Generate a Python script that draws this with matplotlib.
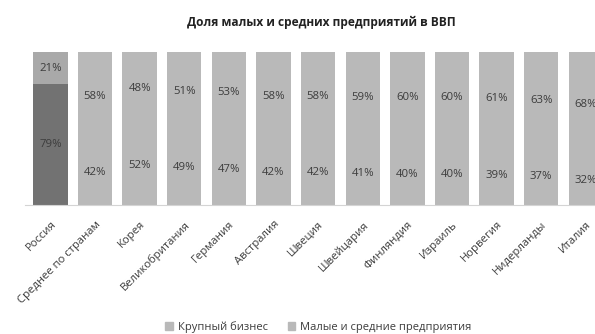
import matplotlib.pyplot as plt
import numpy as np

plt.rcParams["font.family"] = ["Open Sans", "DejaVu Sans"]

countries = [
    "Россия", "Среднее по странам", "Корея", "Великобритания", "Германия",
    "Австралия", "Швеция", "Швейцария", "Финляндия", "Израиль",
    "Норвегия", "Нидерланды", "Италия",
]
large_business = [79, 42, 52, 49, 47, 42, 42, 41, 40, 40, 39, 37, 32]
small_medium = [21, 58, 48, 51, 53, 58, 58, 59, 60, 60, 61, 63, 68]

BAR_GREY = "#b9b9b9"
RUSSIA_LARGE = "#727272"
RUSSIA_SME = "#a9a9a9"
TEXT = "#3c3c3c"

fig = plt.figure(figsize=(5.95, 3.34), dpi=100)
ax = fig.add_axes([0.042, 0.386, 0.980, 0.458])

x = np.arange(len(countries))
large_colors = [RUSSIA_LARGE] + [BAR_GREY] * (len(x) - 1)
sme_colors = [RUSSIA_SME] + [BAR_GREY] * (len(x) - 1)

ax.bar(x, large_business, width=0.77, color=large_colors)
ax.bar(x, small_medium, width=0.77, bottom=large_business, color=sme_colors)

# value labels centred inside each segment
for i, (lb, sm) in enumerate(zip(large_business, small_medium)):
    ax.text(i, lb / 2, f"{lb}%", ha="center", va="center", fontsize=8.2, color=TEXT)
    ax.text(i, lb + sm / 2, f"{sm}%", ha="center", va="center", fontsize=8.2, color=TEXT)

ax.set_xlim(-0.57, 12.5)
ax.set_ylim(0, 100)
ax.set_yticks([])
ax.set_xticks(x)
ax.set_xticklabels(countries, rotation=45, ha="right", rotation_mode="anchor",
                   fontsize=8.1, color=TEXT)
ax.tick_params(axis="x", length=0, pad=10)
for side in ["top", "right", "left"]:
    ax.spines[side].set_visible(False)
ax.spines["bottom"].set_color("#d4d4d4")

fig.text(0.54, 0.934, "Доля малых и средних предприятий в ВВП", ha="center",
         va="center", fontsize=8.6, fontweight="bold", color="#222222")

handles = [
    plt.Rectangle((0, 0), 1, 1, color=BAR_GREY),
    plt.Rectangle((0, 0), 1, 1, color=BAR_GREY),
]
fig.legend(handles, ["Крупный бизнес", "Малые и средние предприятия"],
           loc="center", bbox_to_anchor=(0.535, 0.022), ncol=2, frameon=False,
           fontsize=8, handlelength=0.7, handleheight=0.7, handletextpad=0.4,
           columnspacing=1.8, labelcolor=TEXT)

fig.savefig("out.png", dpi=100)
